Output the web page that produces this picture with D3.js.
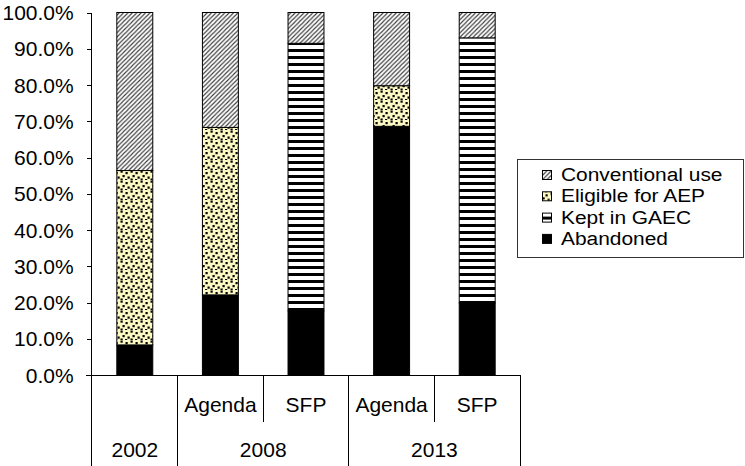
<!DOCTYPE html>
<html>
<head>
<meta charset="utf-8">
<script src="https://cdn.jsdelivr.net/npm/d3@7"></script>
<style>
  html, body { margin: 0; padding: 0; background: #fff; }
  svg { display: block; }
  text { font-family: "Liberation Sans", Arial, sans-serif; font-size: 20px; fill: #000; }
</style>
</head>
<body>
<svg id="chart" width="745" height="466"></svg>
<script>
// Land-use shares (%) per survey year and policy scenario
const categories = ["2002", "2008 Agenda", "2008 SFP", "2013 Agenda", "2013 SFP"];
const subLabels = ["", "Agenda", "SFP", "Agenda", "SFP"];
const yearLabels = ["2002", "2008", "2013"];
const yearSpans = [[0, 1], [1, 3], [3, 5]];   // category index ranges per year

const seriesNames = ["Abandoned", "Kept in GAEC", "Eligible for AEP", "Conventional use"];
const abandoned       = [8.3, 22.1, 17.7, 68.6, 19.9];
const keptInGAEC      = [0, 0, 73.8, 0, 73.1];
const eligibleForAEP  = [48.1, 46.2, 0, 11.2, 0];
const conventionalUse = [43.6, 31.7, 8.5, 20.2, 7.0];
const yTicks = [0, 10, 20, 30, 40, 50, 60, 70, 80, 90, 100];

const seriesValues = [abandoned, keptInGAEC, eligibleForAEP, conventionalUse];
const rows = categories.map((c, i) => {
  const r = { category: c };
  seriesNames.forEach((s, k) => { r[s] = seriesValues[k][i]; });
  return r;
});

const svg = d3.select("#chart");
const stretch = "scale(1.05,1)";

// ---- fill patterns ----
const defs = svg.append("defs");
const fillOf = {
  "Abandoned": "#000",
  "Kept in GAEC": "url(#pat-gaec)",
  "Eligible for AEP": "url(#pat-aep)",
  "Conventional use": "url(#pat-conv)"
};

const pConv = defs.append("pattern").attr("id", "pat-conv")
  .attr("patternUnits", "userSpaceOnUse").attr("width", 4.4).attr("height", 4.4);
pConv.append("rect").attr("width", 4.4).attr("height", 4.4).attr("fill", "#fff");
pConv.append("path").attr("d", "M-1,5.4 L5.4,-1 M-1,1 L1,-1 M3.4,5.4 L5.4,3.4")
  .attr("stroke", "#3a3a3a").attr("stroke-width", 1.1);

const pAep = defs.append("pattern").attr("id", "pat-aep")
  .attr("patternUnits", "userSpaceOnUse").attr("width", 10).attr("height", 10);
pAep.append("rect").attr("width", 10).attr("height", 10).attr("fill", "#fcf9c2");
[[0.5, 0.5], [5.5, 2], [2.5, 5], [7.5, 6.5], [0.5, 8.5], [5, 9]].forEach(([dx, dy]) => {
  pAep.append("rect").attr("x", dx).attr("y", dy).attr("width", 2.2).attr("height", 2.2).attr("fill", "#000");
});

const pGaec = defs.append("pattern").attr("id", "pat-gaec")
  .attr("patternUnits", "userSpaceOnUse").attr("width", 8).attr("height", 7);
pGaec.append("rect").attr("width", 8).attr("height", 7).attr("fill", "#fff");
pGaec.append("rect").attr("y", 0).attr("width", 8).attr("height", 3).attr("fill", "#000");

// ---- scales ----
const x = d3.scaleBand().domain(categories).range([92, 520])
  .paddingInner(0.58).paddingOuter(0.29);
const y = d3.scaleLinear().domain([0, 100]).range([375, 12.5]);
const step = x.step();
const x0 = 92;

// ---- bars ----
const stack = d3.stack().keys(seriesNames);
const layers = stack(rows);
svg.append("g").selectAll("g").data(layers).join("g")
  .attr("fill", d => fillOf[d.key])
  .selectAll("rect")
  .data(d => d.filter(p => p[1] - p[0] > 0))
  .join("rect")
  .attr("x", d => x(d.data.category))
  .attr("width", x.bandwidth())
  .attr("y", d => y(d[1]))
  .attr("height", d => y(d[0]) - y(d[1]))
  .attr("stroke", "#000").attr("stroke-width", 1);

// ---- y axis ----
const yAxis = svg.append("g").attr("transform", "translate(91.5,0)")
  .call(d3.axisLeft(y).tickValues(yTicks).tickSize(5).tickSizeOuter(0).tickPadding(12)
    .tickFormat(d => d.toFixed(1) + "%"));
yAxis.select(".domain").remove();
yAxis.selectAll("line").attr("stroke", "#000");
yAxis.selectAll("text").attr("transform", stretch).style("font-size", "20px")
  .style("font-family", "'Liberation Sans', Arial, sans-serif").attr("dy", "0.35em");
yAxis.selectAll("path, line").attr("shape-rendering", "crispEdges");

// ---- category table below the axis ----
const grid = svg.append("g").attr("stroke", "#000").attr("stroke-width", 1)
  .attr("shape-rendering", "crispEdges");
grid.append("line").attr("x1", 91.5).attr("x2", 91.5).attr("y1", y(100)).attr("y2", 466);
grid.append("line").attr("x1", 86).attr("x2", x0 + step * 5).attr("y1", y(0)).attr("y2", y(0));
d3.range(1, 6).forEach(k => {
  const full = yearSpans.some(s => s[1] === k);
  grid.append("line")
    .attr("x1", x0 + step * k).attr("x2", x0 + step * k)
    .attr("y1", y(0)).attr("y2", full ? 466 : 422);
});

svg.append("g").selectAll("text").data(categories).join("text")
  .attr("transform", d => `translate(${x(d) + x.bandwidth() / 2},412) ${stretch}`)
  .attr("text-anchor", "middle")
  .text((d, i) => subLabels[i]);

svg.append("g").selectAll("text").data(yearLabels).join("text")
  .attr("transform", (d, i) => `translate(${x0 + step * (yearSpans[i][0] + yearSpans[i][1]) / 2},457) ${stretch}`)
  .attr("text-anchor", "middle")
  .text(d => d);

// ---- legend ----
const legendOrder = seriesNames.slice().reverse();
const legend = svg.append("g");
legend.append("rect").attr("x", 517.5).attr("y", 159.5).attr("width", 226).attr("height", 98)
  .attr("fill", "#fff").attr("stroke", "#333");
const items = legend.selectAll("g.item").data(legendOrder).join("g")
  .attr("class", "item")
  .attr("transform", (d, i) => `translate(0,${181 + i * 21.3})`);
items.append("rect").attr("x", 542.5).attr("y", -10.5).attr("width", 9).attr("height", 9)
  .attr("fill", d => fillOf[d]).attr("stroke", "#000").attr("stroke-width", 1);
items.append("text")
  .attr("transform", `translate(561,0) scale(1.1,1)`)
  .style("font-size", "19px")
  .text(d => d);
</script>
</body>
</html>
